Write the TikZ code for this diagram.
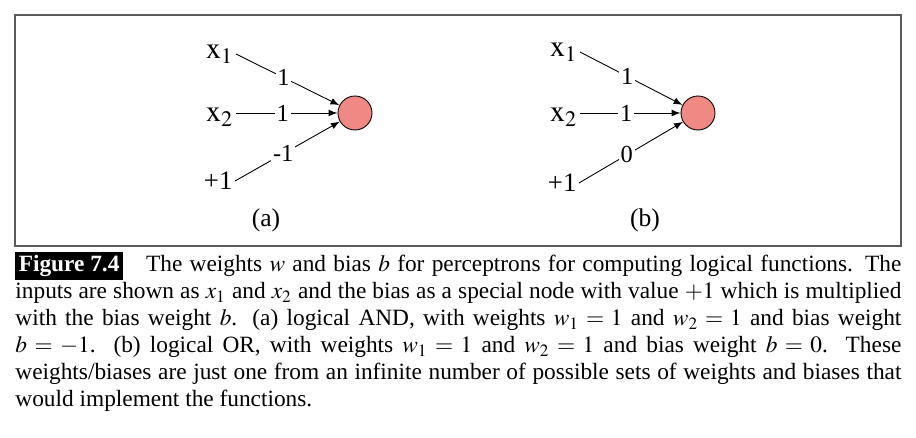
\documentclass[tikz,border=0pt]{standalone}
\usepackage{mathptmx}
\usepackage{fontspec}
\setmainfont{Liberation Serif}
\usepackage{tikz}
\tikzset{>=latex}
\usetikzlibrary{positioning,calc}
\definecolor{neuronred}{RGB}{240,136,132}
\definecolor{framegray}{RGB}{90,90,90}

\begin{document}
\begin{tikzpicture}[x=0.45pt,y=-0.45pt,
                    input/.style={anchor=east,inner sep=1pt,font=\fontsize{13.5}{15}\selectfont},
                    biasin/.style={anchor=east,inner sep=1pt,font=\fontsize{12}{14}\selectfont},
                    neuron/.style={circle,draw,fill=neuronred,inner sep=0,minimum size=15.3pt},
                    weight/.style={fill=white,inner sep=0.8pt,pos=0.46,font=\fontsize{11}{13}\selectfont},
                    panel/.style={font=\fontsize{11.5}{13}\selectfont},
       ]
       \useasboundingbox (0,0) rectangle (916,438);
       \draw[framegray,line width=0.7pt] (15,15) rectangle (901,246);
       % (a) AND
       \node[input] (xa1) at (236,54) {$\mathrm{x}_1$};
       \node[input] (xa2) at (236,117) {$\mathrm{x}_2$};
       \node[biasin] (ba) at (235,181) {+1};
       \node[neuron] (andunit) at (355,113) {};
       \node[panel] (capa) at (266,220) {(a)};
       \draw[->] (xa1.east) -- (andunit) node[weight] {1};
       \draw[->] (xa2.east |- andunit) -- (andunit) node[weight] {1};
       \draw[->] (ba.east) -- (andunit) node[weight] {-1};
       % (b) OR
       \node[input] (xb1) at (580,52) {$\mathrm{x}_1$};
       \node[input] (xb2) at (580,117) {$\mathrm{x}_2$};
       \node[biasin] (bb) at (579,183) {+1};
       \node[neuron] (orunit) at (698,113) {};
       \node[panel] (capb) at (645,220) {(b)};
       \draw[->] (xb1.east) -- (orunit) node[weight] {1};
       \draw[->] (xb2.east |- orunit) -- (orunit) node[weight] {1};
       \draw[->] (bb.east) -- (orunit) node[weight] {0};
       % caption
       \node[anchor=north west,inner sep=0,text width=398.7pt,align=justify,
             font=\fontsize{10.5}{12.15}\selectfont] (caption) at (15,252)
       {{\setlength{\fboxsep}{1.5pt}\colorbox{black}{\textcolor{white}{\textbf{Figure 7.4}}}}\hspace{1em}The
        weights $w$ and bias $b$ for perceptrons for computing logical functions. The\linebreak
        inputs are shown as $x_1$ and $x_2$ and the bias as a special node with value $+1$ which is multiplied\linebreak
        with the bias weight $b$. (a) logical AND, with weights $w_1=1$ and $w_2=1$ and bias weight\linebreak
        $b=-1$. (b) logical OR, with weights $w_1=1$ and $w_2=1$ and bias weight $b=0$. These\linebreak
        weights/biases are just one from an infinite number of possible sets of weights and biases that\linebreak
        would implement the functions.};
\end{tikzpicture}
\end{document}
